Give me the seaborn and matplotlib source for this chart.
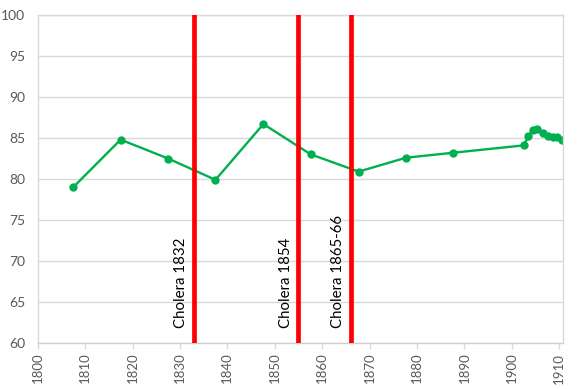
import matplotlib
matplotlib.use("Agg")
import matplotlib.pyplot as plt
import seaborn as sns
import pandas as pd

# values
years = [1807.5, 1817.5, 1827.5, 1837.5, 1847.6, 1857.6, 1867.7, 1877.7, 1887.6,
         1902.5, 1903.5, 1904.5, 1905.4, 1906.5, 1907.6, 1908.7, 1909.5, 1910.6]
values = [79.0, 84.8, 82.5, 79.9, 86.7, 83.0, 80.9, 82.6, 83.2,
          84.1, 85.2, 86.0, 86.1, 85.6, 85.2, 85.1, 85.1, 84.7]
cholera_years = [1833, 1855, 1866]
cholera_labels = ["Cholera 1832", "Cholera 1854", "Cholera 1865-66"]
x_ticks = list(range(1800, 1911, 10))
y_ticks = list(range(60, 101, 5))

df = pd.DataFrame({"year": years, "value": values})

sns.set_style("white")
plt.rcParams["font.family"] = ["Lato", "DejaVu Sans"]

fig = plt.figure(figsize=(5.77, 3.89), dpi=100)
ax = fig.add_axes([0.0653, 0.1183, 0.9113, 0.8431])

ax.grid(axis="y", color="#d9d9d9", linewidth=1)
ax.set_axisbelow(True)

sns.lineplot(data=df, x="year", y="value", ax=ax, color="#00b050",
             linewidth=1.7, marker="o", markersize=6, markeredgewidth=0)

for yr, lab in zip(cholera_years, cholera_labels):
    ax.axvline(yr, color="#ff0000", linewidth=3.4, zorder=3)
    ax.text(yr - 1.2, 61.8, lab, rotation=90, ha="right", va="bottom",
            fontsize=10.8, color="black")

ax.set_xlim(1800, 1910.9)
ax.set_ylim(60, 100)
ax.set_xticks(x_ticks)
ax.set_yticks(y_ticks)
ax.set_xticklabels([str(t) for t in x_ticks], rotation=90)
ax.tick_params(axis="x", colors="#595959", labelsize=9.5, length=4, width=1,
               direction="out", bottom=True, color="#d9d9d9", pad=3)
ax.tick_params(axis="y", colors="#595959", labelsize=10, length=0, pad=9)
for t in ax.get_xticklabels():
    t.set_color("#595959")

for side in ["left", "right", "bottom", "top"]:
    ax.spines[side].set_color("#d9d9d9")
    ax.spines[side].set_linewidth(1)
ax.spines["bottom"].set_color("#d0d0d0")
ax.set_xlabel("")
ax.set_ylabel("")

fig.savefig("out.png", dpi=100)
